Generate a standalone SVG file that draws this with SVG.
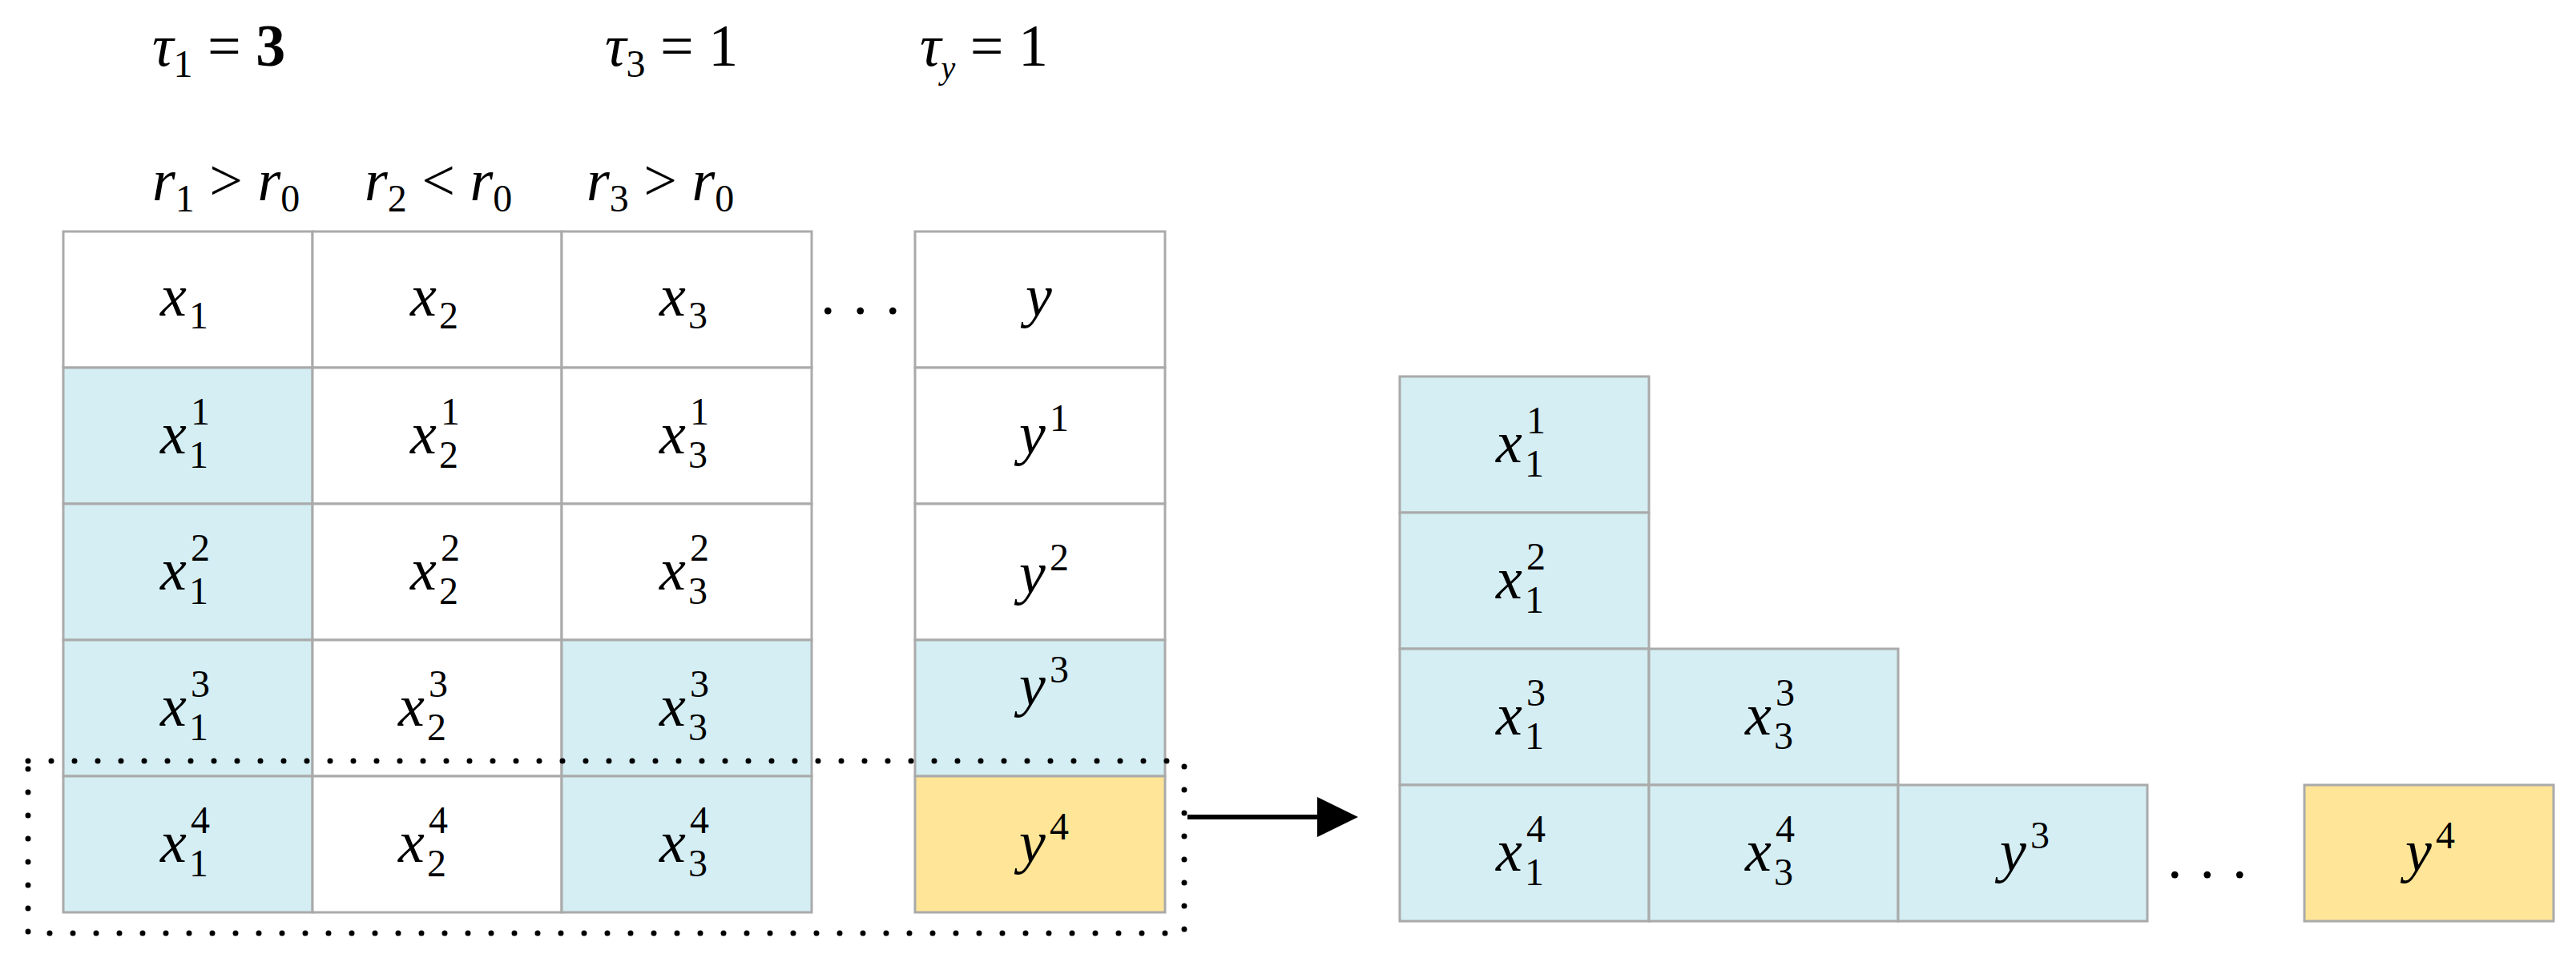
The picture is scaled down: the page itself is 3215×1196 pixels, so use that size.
<svg xmlns="http://www.w3.org/2000/svg" width="3215" height="1196" viewBox="0 0 3215 1196">
<style>
.c{stroke:#aaaaaa;stroke-width:3}
.w{fill:#ffffff}.b{fill:#d4eef3}.y{fill:#fee597}
.m{font-family:"Liberation Serif",serif;font-style:italic;font-size:74px;fill:#000}
.s{font-family:"Liberation Serif",serif;font-size:48px;fill:#000}
.t{font-family:"Liberation Serif",serif;font-size:74px;fill:#000}
</style>
<rect width="3215" height="1196" fill="#fff"/>
<g id="labels">
<text class="t" x="190" y="82"><tspan font-style="italic">τ</tspan><tspan font-size="48" dy="14">1</tspan><tspan dy="-14"> = </tspan><tspan font-weight="bold">3</tspan></text>
<text class="t" x="755" y="82"><tspan font-style="italic">τ</tspan><tspan font-size="48" dy="14">3</tspan><tspan dy="-14"> = 1</tspan></text>
<text class="t" x="1148" y="82"><tspan font-style="italic">τ</tspan><tspan font-size="40" font-style="italic" dy="16">y</tspan><tspan dy="-16"> = 1</tspan></text>
<text class="t" x="190" y="250"><tspan font-style="italic">r</tspan><tspan font-size="48" dy="14">1</tspan><tspan dy="-14"> &gt; </tspan><tspan font-style="italic">r</tspan><tspan font-size="48" dy="14">0</tspan></text>
<text class="t" x="455" y="250"><tspan font-style="italic">r</tspan><tspan font-size="48" dy="14">2</tspan><tspan dy="-14"> &lt; </tspan><tspan font-style="italic">r</tspan><tspan font-size="48" dy="14">0</tspan></text>
<text class="t" x="732" y="250"><tspan font-style="italic">r</tspan><tspan font-size="48" dy="14">3</tspan><tspan dy="-14"> &gt; </tspan><tspan font-style="italic">r</tspan><tspan font-size="48" dy="14">0</tspan></text>
<text class="t" x="1024" y="392" letter-spacing="22">...</text>
<text class="t" x="2705" y="1096" letter-spacing="22">...</text>
</g>
<g id="left-table">
<rect class="c w" x="79" y="289" width="311" height="170"/>
<rect class="c w" x="390" y="289" width="311" height="170"/>
<rect class="c w" x="701" y="289" width="312" height="170"/>
<rect class="c w" x="1142" y="289" width="312" height="170"/>
<rect class="c b" x="79" y="459" width="311" height="170"/>
<rect class="c w" x="390" y="459" width="311" height="170"/>
<rect class="c w" x="701" y="459" width="312" height="170"/>
<rect class="c w" x="1142" y="459" width="312" height="170"/>
<rect class="c b" x="79" y="629" width="311" height="170"/>
<rect class="c w" x="390" y="629" width="311" height="170"/>
<rect class="c w" x="701" y="629" width="312" height="170"/>
<rect class="c w" x="1142" y="629" width="312" height="170"/>
<rect class="c b" x="79" y="799" width="311" height="170"/>
<rect class="c w" x="390" y="799" width="311" height="170"/>
<rect class="c b" x="701" y="799" width="312" height="170"/>
<rect class="c b" x="1142" y="799" width="312" height="170"/>
<rect class="c b" x="79" y="969" width="311" height="170"/>
<rect class="c w" x="390" y="969" width="311" height="170"/>
<rect class="c b" x="701" y="969" width="312" height="170"/>
<rect class="c y" x="1142" y="969" width="312" height="170"/>
<text class="m" x="200" y="394">x</text><text class="s" x="236" y="410">1</text>
<text class="m" x="512" y="394">x</text><text class="s" x="548" y="410">2</text>
<text class="m" x="823" y="394">x</text><text class="s" x="859" y="410">3</text>
<text class="m" x="1280" y="394">y</text>
<text class="m" x="200" y="566">x</text><text class="s" x="236" y="584">1</text><text class="s" x="238" y="530">1</text>
<text class="m" x="512" y="566">x</text><text class="s" x="548" y="584">2</text><text class="s" x="550" y="530">1</text>
<text class="m" x="823" y="566">x</text><text class="s" x="859" y="584">3</text><text class="s" x="861" y="530">1</text>
<text class="m" x="1272" y="566">y</text><text class="s" x="1310" y="538">1</text>
<text class="m" x="200" y="736">x</text><text class="s" x="236" y="754">1</text><text class="s" x="238" y="700">2</text>
<text class="m" x="512" y="736">x</text><text class="s" x="548" y="754">2</text><text class="s" x="550" y="700">2</text>
<text class="m" x="823" y="736">x</text><text class="s" x="859" y="754">3</text><text class="s" x="861" y="700">2</text>
<text class="m" x="1272" y="740">y</text><text class="s" x="1310" y="712">2</text>
<text class="m" x="200" y="906">x</text><text class="s" x="236" y="924">1</text><text class="s" x="238" y="870">3</text>
<text class="m" x="497" y="906">x</text><text class="s" x="533" y="924">2</text><text class="s" x="535" y="870">3</text>
<text class="m" x="823" y="906">x</text><text class="s" x="859" y="924">3</text><text class="s" x="861" y="870">3</text>
<text class="m" x="1272" y="880">y</text><text class="s" x="1310" y="852">3</text>
<text class="m" x="200" y="1076">x</text><text class="s" x="236" y="1094">1</text><text class="s" x="238" y="1040">4</text>
<text class="m" x="497" y="1076">x</text><text class="s" x="533" y="1094">2</text><text class="s" x="535" y="1040">4</text>
<text class="m" x="823" y="1076">x</text><text class="s" x="859" y="1094">3</text><text class="s" x="861" y="1040">4</text>
<text class="m" x="1272" y="1076">y</text><text class="s" x="1310" y="1048">4</text>
</g>
<g id="right-table">
<rect class="c b" x="1747" y="470" width="311" height="170"/>
<rect class="c b" x="1747" y="640" width="311" height="170"/>
<rect class="c b" x="1747" y="810" width="311" height="170"/>
<rect class="c b" x="2058" y="810" width="311" height="170"/>
<rect class="c b" x="1747" y="980" width="311" height="170"/>
<rect class="c b" x="2058" y="980" width="311" height="170"/>
<rect class="c b" x="2369" y="980" width="311" height="170"/>
<rect class="c y" x="2876" y="980" width="311" height="170"/>
<text class="m" x="1867" y="577">x</text><text class="s" x="1903" y="595">1</text><text class="s" x="1905" y="541">1</text>
<text class="m" x="1867" y="747">x</text><text class="s" x="1903" y="765">1</text><text class="s" x="1905" y="711">2</text>
<text class="m" x="1867" y="917">x</text><text class="s" x="1903" y="935">1</text><text class="s" x="1905" y="881">3</text>
<text class="m" x="2178" y="917">x</text><text class="s" x="2214" y="935">3</text><text class="s" x="2216" y="881">3</text>
<text class="m" x="1867" y="1087">x</text><text class="s" x="1903" y="1105">1</text><text class="s" x="1905" y="1051">4</text>
<text class="m" x="2178" y="1087">x</text><text class="s" x="2214" y="1105">3</text><text class="s" x="2216" y="1051">4</text>
<text class="m" x="2496" y="1087">y</text><text class="s" x="2534" y="1059">3</text>
<text class="m" x="3002" y="1087">y</text><text class="s" x="3040" y="1059">4</text>
</g>
<g id="connectors">
<rect x="35" y="950" width="1443" height="215" fill="none" stroke="#000" stroke-width="7" stroke-linecap="round" stroke-dasharray="0 29"/>
<line x1="1482" y1="1020" x2="1648" y2="1020" stroke="#000" stroke-width="6"/>
<polygon points="1644,995 1695,1020 1644,1045" fill="#000"/>
</g>
</svg>
